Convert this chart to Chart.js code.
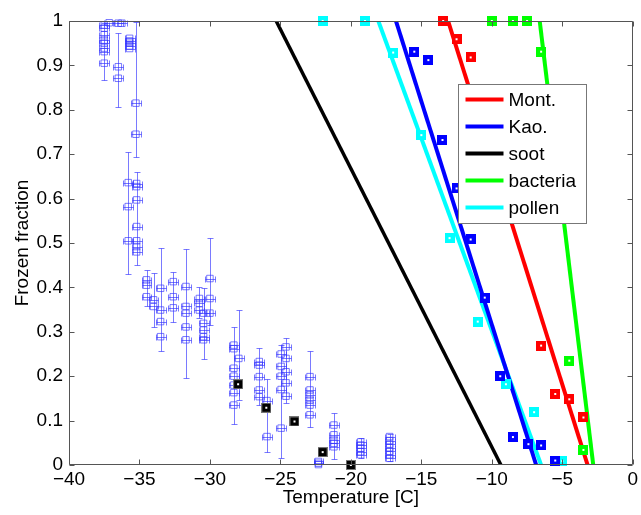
<!DOCTYPE html>
<html>
<head>
<meta charset="utf-8">
<script src="https://cdn.jsdelivr.net/npm/chart.js@4.4.1/dist/chart.umd.min.js"></script>
<style>
  html, body { margin: 0; padding: 0; background: #fff; }
  canvas { display: block; }
</style>
</head>
<body>
<canvas id="c" width="641" height="515"></canvas>
<script>
// fitted lines (temperature at frozen fraction 1 and 0)
const fitFrac = [1, 0];
const montFitT = [-13.1, -3.2];
const kaoFitT = [-16.8, -6.85];
const sootFitT = [-25.3, -9.35];
const bactFitT = [-6.6, -2.8];
const pollenFitT = [-18.05, -6.5];

// measured points per material
const montT = [-13.45, -12.5, -11.5, -6.5, -5.5, -4.5, -3.5];
const montF = [1.0, 0.959, 0.918, 0.269, 0.160, 0.148, 0.107];
const kaoT = [-15.5, -14.5, -13.5, -12.5, -11.5, -10.5, -9.4, -8.5, -7.4, -6.5, -5.5];
const kaoF = [0.931, 0.912, 0.732, 0.623, 0.508, 0.377, 0.200, 0.063, 0.047, 0.044, 0.010];
const sootT = [-28, -26, -24, -22, -20];
const sootF = [0.182, 0.129, 0.098, 0.029, 0.0];
const bactT = [-10, -8.5, -7.5, -6.5, -4.5, -3.5];
const bactF = [1, 1, 1, 0.931, 0.235, 0.034];
const pollenT = [-22, -19, -17, -15, -13, -11, -9, -7, -5];
const pollenF = [1, 1, 0.929, 0.743, 0.511, 0.323, 0.182, 0.119, 0.009];

// droplet freezing data (open squares)
const dropT = [
  -37.5, -37.5, -37.5, -37.5, -37.5, -37.5, -37.5, -37.5,
  -37.15,
  -36.5, -36.5, -36.5,
  -36.25,
  -35.7, -35.7, -35.7, -35.7, -35.7,
  -35.25, -35.25,
  -35.8, -35.8, -35.8,
  -35.2, -35.2, -35.2, -35.2, -35.2, -35.2, -35.2,
  -34.5, -34.5, -34.5,
  -34.0, -34.0,
  -33.5, -33.5, -33.5, -33.5,
  -32.6, -32.6, -32.6,
  -31.7, -31.7, -31.7, -31.7, -31.7,
  -30.75, -30.75, -30.75,
  -30.45, -30.45, -30.45, -30.45, -30.45,
  -30.0, -30.0, -30.0,
  -28.3, -28.3, -28.3, -28.3, -28.3, -28.3, -28.3,
  -27.95,
  -26.5, -26.5, -26.5, -26.5, -26.5,
  -25.95, -25.95,
  -24.95, -24.95, -24.95, -24.95, -24.95,
  -24.6, -24.6, -24.6, -24.6, -24.6,
  -22.9, -22.9, -22.9, -22.9, -22.9, -22.9,
  -22.3, -22.3, -22.3,
  -21.2, -21.2, -21.2, -21.2, -21.2,
  -19.3, -19.3, -19.3, -19.3, -19.3,
  -17.25, -17.25, -17.25, -17.25, -17.25, -17.25, -17.25
];
const dropF = [
  0.991, 0.984, 0.969, 0.957, 0.950, 0.939, 0.931, 0.905,
  0.996,
  0.995, 0.897, 0.871,
  0.995,
  0.961, 0.955, 0.950, 0.944, 0.938,
  0.815, 0.745,
  0.636, 0.582, 0.505,
  0.634, 0.627, 0.597, 0.537, 0.505, 0.492, 0.480,
  0.417, 0.405, 0.379,
  0.372, 0.357,
  0.398, 0.349, 0.323, 0.289,
  0.413, 0.379, 0.354,
  0.402, 0.357, 0.342, 0.311, 0.282,
  0.375, 0.364, 0.349,
  0.342, 0.319, 0.304, 0.289, 0.282,
  0.420, 0.375, 0.342,
  0.270, 0.262, 0.218, 0.200, 0.180, 0.163, 0.135,
  0.240,
  0.233, 0.225, 0.199, 0.169, 0.154,
  0.145, 0.064,
  0.250, 0.222, 0.200, 0.170, 0.083,
  0.266, 0.240, 0.210, 0.185, 0.155,
  0.199, 0.169, 0.158, 0.146, 0.135, 0.113,
  0.008, 0.004, 0.001,
  0.090, 0.068, 0.056, 0.049, 0.041,
  0.052, 0.045, 0.038, 0.030, 0.023,
  0.064, 0.055, 0.047, 0.039, 0.031, 0.023, 0.015
];
const dropXErr = 0.35;

// vertical error bars on the droplet data
const errT  = [-37.5, -36.5, -35.25, -35.8, -35.2, -34.5, -34.0, -33.5, -32.6, -31.7, -30.75, -30.45, -30.0, -28.3, -27.95, -26.5, -25.95, -24.95, -24.6, -22.9, -21.2, -19.3, -17.25];
const errLo = [0.866, 0.807, 0.694, 0.430, 0.450, 0.357, 0.311, 0.257, 0.323, 0.195, 0.330, 0.238, 0.315, 0.092, 0.146, 0.135, 0.029, 0.015, 0.140, 0.086, 0.013, 0.015, 0.010];
const errHi = [0.995, 0.972, 0.998, 0.706, 0.660, 0.439, 0.433, 0.489, 0.435, 0.486, 0.400, 0.398, 0.512, 0.311, 0.348, 0.263, 0.193, 0.270, 0.285, 0.257, 0.118, 0.060, 0.070];

const xTicks = [-40, -35, -30, -25, -20, -15, -10, -5, 0];
const seriesNames = ['Mont.', 'Kao.', 'soot', 'bacteria', 'pollen'];
const seriesColors = ['#ff0000', '#0000ff', '#000000', '#00ff00', '#00ffff'];

const FONT = "'Liberation Sans', Arial, sans-serif";
const dropColor = 'rgba(50,50,255,0.65)';

function pts(xs, ys) {
  return xs.map((v, i) => ({x: v, y: ys[i]}));
}

function squareMarker(fill, edge) {
  const c = document.createElement('canvas');
  c.width = c.height = 10;
  const g = c.getContext('2d');
  g.fillStyle = fill;
  g.fillRect(0, 0, 10, 10);
  if (edge) {
    g.strokeStyle = edge;
    g.lineWidth = 1;
    g.strokeRect(0.5, 0.5, 9, 9);
  }
  g.fillStyle = '#fff';
  g.fillRect(4, 4, 2, 2);
  return c;
}

function fitSet(i, xs, width) {
  return {
    label: seriesNames[i],
    data: pts(xs, fitFrac),
    showLine: true,
    borderColor: seriesColors[i],
    borderWidth: width,
    pointRadius: 0,
    order: 5
  };
}

function markSet(i, xs, ys, edge) {
  return {
    label: seriesNames[i] + ' data',
    data: pts(xs, ys),
    showLine: false,
    pointStyle: squareMarker(seriesColors[i], edge),
    pointRadius: 5,
    clip: false,
    order: 2
  };
}

// error bars under the droplet squares
const errorBars = {
  id: 'errorBars',
  beforeDatasetsDraw(chart) {
    const {ctx, chartArea: a, scales: {x, y}} = chart;
    const cx = v => Math.round(x.getPixelForValue(v)) + 0.5;
    const cy = v => Math.round(y.getPixelForValue(v)) + 0.5;
    ctx.save();
    ctx.beginPath();
    ctx.rect(a.left, a.top - 6, a.right - a.left, a.bottom - a.top + 6);
    ctx.clip();
    ctx.strokeStyle = dropColor;
    ctx.lineWidth = 1;
    ctx.beginPath();
    errT.forEach((t, i) => {
      const px = cx(t), p1 = cy(errLo[i]), p2 = cy(errHi[i]);
      ctx.moveTo(px, p1); ctx.lineTo(px, p2);
      ctx.moveTo(px - 3, p1); ctx.lineTo(px + 3, p1);
      ctx.moveTo(px - 3, p2); ctx.lineTo(px + 3, p2);
    });
    dropT.forEach((t, i) => {
      const l = cx(t - dropXErr), r = cx(t + dropXErr), py = cy(dropF[i]);
      ctx.moveTo(l, py); ctx.lineTo(r, py);
      ctx.moveTo(l, py - 3); ctx.lineTo(l, py + 3);
      ctx.moveTo(r, py - 3); ctx.lineTo(r, py + 3);
    });
    ctx.stroke();
    ctx.restore();
  }
};

// matlab style box with inward ticks, then the legend
const boxAxes = {
  id: 'boxAxes',
  afterDraw(chart) {
    const {ctx, chartArea: a, scales: {x, y}} = chart;
    ctx.save();
    ctx.strokeStyle = '#555';
    ctx.lineWidth = 1;
    const L = Math.round(a.left) + 0.5, R = Math.round(a.right) - 0.5;
    const T = Math.round(a.top) + 0.5, B = Math.round(a.bottom) - 0.5;
    ctx.beginPath();
    ctx.rect(L, T, R - L, B - T);
    x.ticks.forEach(t => {
      const px = Math.round(x.getPixelForValue(t.value)) + 0.5;
      ctx.moveTo(px, B); ctx.lineTo(px, B - 5);
      ctx.moveTo(px, T); ctx.lineTo(px, T + 5);
    });
    y.ticks.forEach(t => {
      const py = Math.round(y.getPixelForValue(t.value)) + 0.5;
      ctx.moveTo(L, py); ctx.lineTo(L + 5, py);
      ctx.moveTo(R, py); ctx.lineTo(R - 5, py);
    });
    ctx.stroke();

    // legend box
    const lx = 458.5, ly = 84.5, lw = 128, lh = 139;
    ctx.fillStyle = '#fff';
    ctx.fillRect(lx, ly, lw, lh);
    ctx.strokeStyle = '#777';
    ctx.strokeRect(lx, ly, lw, lh);
    ctx.font = '19px ' + FONT;
    ctx.textBaseline = 'middle';
    ctx.fillStyle = '#000';
    seriesNames.forEach((name, i) => {
      const yy = ly + 15 + i * 27;
      ctx.strokeStyle = seriesColors[i];
      ctx.lineWidth = 4;
      ctx.beginPath();
      ctx.moveTo(lx + 7, yy); ctx.lineTo(lx + 45, yy);
      ctx.stroke();
      ctx.fillText(name, lx + 50, yy + 1);
    });
    ctx.restore();
  }
};

Chart.defaults.font.family = FONT;
Chart.defaults.color = '#000';

new Chart(document.getElementById('c'), {
  type: 'scatter',
  data: {
    datasets: [
      markSet(0, montT, montF),
      markSet(1, kaoT, kaoF),
      markSet(2, sootT, sootF, '#777'),
      markSet(3, bactT, bactF),
      markSet(4, pollenT, pollenF),
      fitSet(0, montFitT, 4),
      fitSet(1, kaoFitT, 4),
      fitSet(2, sootFitT, 3.5),
      fitSet(3, bactFitT, 4),
      fitSet(4, pollenFitT, 4),
      {
        label: 'droplets',
        data: pts(dropT, dropF),
        showLine: false,
        pointStyle: 'rect',
        pointRadius: 4.6,
        backgroundColor: 'rgba(0,0,0,0)',
        borderColor: dropColor,
        borderWidth: 1,
        clip: false,
        order: 8
      }
    ]
  },
  options: {
    responsive: false,
    animation: false,
    events: [],
    layout: {padding: {top: 21, right: 7, left: 0, bottom: 0}},
    plugins: {legend: {display: false}, tooltip: {enabled: false}},
    scales: {
      x: {
        type: 'linear',
        min: -40, max: 0,
        afterBuildTicks: s => { s.ticks = xTicks.map(v => ({value: v})); },
        afterFit: s => { s.height = 50; },
        grid: {display: false, drawTicks: false},
        border: {display: false},
        ticks: {
          font: {size: 19},
          padding: 3,
          maxRotation: 0,
          callback: v => String(v).replace('-', '\u2212')
        },
        title: {display: true, text: 'Temperature [C]', font: {size: 19}, padding: {bottom: 6}}
      },
      y: {
        type: 'linear',
        min: 0, max: 1,
        afterFit: s => { s.width = 69; },
        grid: {display: false, drawTicks: false},
        border: {display: false},
        ticks: {
          font: {size: 19},
          padding: 6,
          stepSize: 0.1,
          callback: v => (v === 0 || v === 1) ? String(v) : v.toFixed(1)
        },
        title: {display: true, text: 'Frozen fraction', font: {size: 19}, padding: {top: 11}}
      }
    }
  },
  plugins: [errorBars, boxAxes]
});
</script>
</body>
</html>
